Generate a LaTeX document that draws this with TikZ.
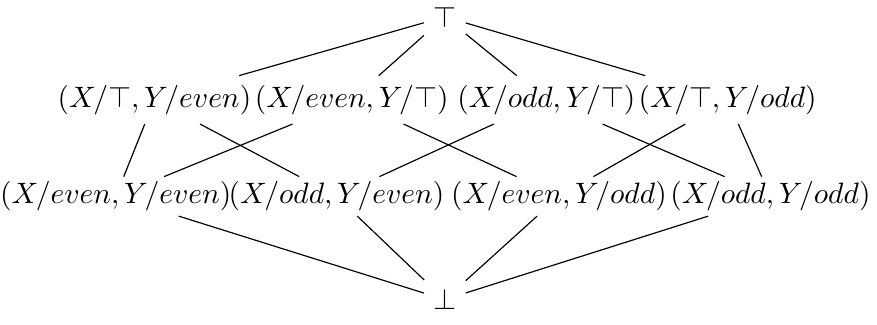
\documentclass[tikz,border=0pt]{standalone}
\usepackage{amsmath}
\usepackage{amssymb}
\begin{document}
\begin{tikzpicture}[lat/.style={inner sep=3pt}, low/.style={lat, inner ysep=1.5pt}]
        \useasboundingbox (0,0) rectangle (10.45,-3.87);
        \node[lat] (top) at (5.30,-0.20) {$\top$};
        \node[lat] (a1) at (1.84,-1.19) {$(X/\top, Y/even)$};
        \node[lat] (a2) at (4.19,-1.19) {$(X/even, Y/\top)$};
        \node[lat] (a3) at (6.51,-1.19) {$(X/odd, Y/\top)$};
        \node[lat] (a4) at (8.67,-1.19) {$(X/\top, Y/odd)$};
        \node[low] (b1) at (1.38,-2.34) {$(X/even, Y/even)$};
        \node[low] (b2) at (4.01,-2.34) {$(X/odd, Y/even)$};
        \node[low] (b3) at (6.66,-2.34) {$(X/even, Y/odd)$};
        \node[low] (b4) at (9.18,-2.34) {$(X/odd, Y/odd)$};
        \node[lat] (bot) at (5.30,-3.57) {$\bot$};
        \foreach \n in {a1,a2,a3,a4}
          \draw (top) -- (\n);
        \foreach \n in {b1,b2,b3,b4}
          \draw (\n) -- (bot);
        \draw (a1) -- (b1);
        \draw (a1) -- (b2);
        \draw (a2) -- (b1);
        \draw (a2) -- (b3);
        \draw (a3) -- (b2);
        \draw (a3) -- (b4);
        \draw (a4) -- (b3);
        \draw (a4) -- (b4);
      \end{tikzpicture}
\end{document}
